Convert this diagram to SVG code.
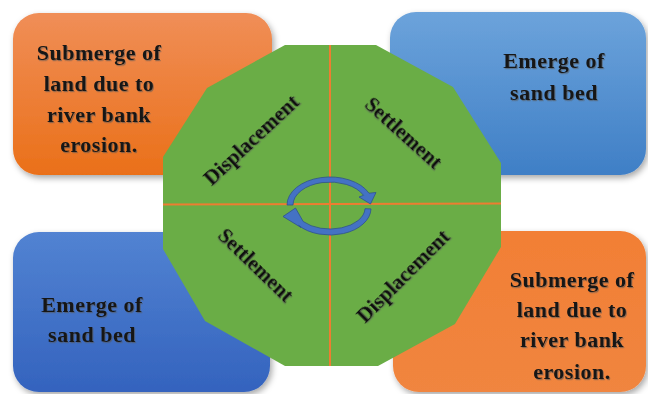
<svg xmlns="http://www.w3.org/2000/svg" width="648" height="394" viewBox="0 0 648 394">
  <defs>
    <linearGradient id="gOrange" x1="0" y1="0" x2="0" y2="1">
      <stop offset="0" stop-color="#F08E57"/>
      <stop offset="1" stop-color="#EA7019"/>
    </linearGradient>
    <linearGradient id="gOrange2" x1="0" y1="0" x2="0" y2="1">
      <stop offset="0" stop-color="#F27F35"/>
      <stop offset="1" stop-color="#F0853F"/>
    </linearGradient>
    <linearGradient id="gBlueLight" x1="0" y1="0" x2="0" y2="1">
      <stop offset="0" stop-color="#6CA3DB"/>
      <stop offset="1" stop-color="#3F7FC6"/>
    </linearGradient>
    <linearGradient id="gBlueDark" x1="0" y1="0" x2="0" y2="1">
      <stop offset="0" stop-color="#5283D2"/>
      <stop offset="1" stop-color="#3463BE"/>
    </linearGradient>
    <filter id="boxShadow" x="-10%" y="-10%" width="125%" height="125%">
      <feDropShadow dx="2" dy="3" stdDeviation="3" flood-color="#000" flood-opacity="0.35"/>
    </filter>
    <filter id="txtShadow" x="-10%" y="-10%" width="120%" height="130%">
      <feDropShadow dx="1" dy="1.2" stdDeviation="0.7" flood-color="#555" flood-opacity="0.6"/>
    </filter>
  </defs>
  <style>
    .lbl { font-family: "Liberation Serif", "Times New Roman", serif; font-weight: bold; font-size: 22px; letter-spacing: 0.5px; fill: #141414; text-anchor: middle; filter: url(#txtShadow); }
    .stage { font-family: "Liberation Serif", "Times New Roman", serif; font-weight: bold; font-size: 21px; fill: #111; text-anchor: middle; filter: url(#txtShadow); }
    .axis { stroke: #ED7D31; stroke-width: 2; }
    .cyc { fill: #4472C4; stroke: #2F528F; stroke-width: 0.8; }
  </style>

  <!-- corner boxes -->
  <g id="box-tl">
    <rect x="13" y="13" width="259" height="162" rx="26" fill="url(#gOrange)" filter="url(#boxShadow)"/>
    <text class="lbl" x="99" y="60">Submerge of</text>
    <text class="lbl" x="99" y="91">land due to</text>
    <text class="lbl" x="99" y="122">river bank</text>
    <text class="lbl" x="99" y="152">erosion.</text>
  </g>
  <g id="box-tr">
    <rect x="390" y="12" width="256" height="163" rx="26" fill="url(#gBlueLight)" filter="url(#boxShadow)"/>
    <text class="lbl" x="554" y="68">Emerge of</text>
    <text class="lbl" x="554" y="100">sand bed</text>
  </g>
  <g id="box-bl">
    <rect x="13" y="232" width="257" height="160" rx="26" fill="url(#gBlueDark)" filter="url(#boxShadow)"/>
    <text class="lbl" x="92" y="312">Emerge of</text>
    <text class="lbl" x="92" y="342">sand bed</text>
  </g>
  <g id="box-br">
    <rect x="393" y="231" width="253" height="161" rx="26" fill="url(#gOrange2)" filter="url(#boxShadow)"/>
    <text class="lbl" x="572" y="287">Submerge of</text>
    <text class="lbl" x="572" y="317">land due to</text>
    <text class="lbl" x="572" y="347">river bank</text>
    <text class="lbl" x="572" y="379">erosion.</text>
  </g>

  <!-- central dodecagon -->
  <g id="hub">
    <polygon points="285,45 376,45 453,87 501,163 501,247 455,324 378,366 285,366 205,321 163,249 163,157 207,88" fill="#6AAD46"/>
  </g>

  <!-- quadrant dividers and cycle arrows -->
  <g id="connectors">
    <line class="axis" x1="330" y1="45" x2="330" y2="366"/>
    <line class="axis" x1="163" y1="204.5" x2="501" y2="203.5"/>
    <path class="cyc" d="M287 205 A43 28 0 0 1 369 193.2 L376 192.5 L370.5 204 L359 197 L363.5 195.3 A37 23 0 0 0 293 205 Z"/>
    <path class="cyc" d="M371 208.9 A41 27 0 0 1 298.6 225.4 L301 227.5 L283 216.5 L295.5 208 L303.2 221.5 A35 21 0 0 0 365 208.7 Z"/>
  </g>

  <!-- stage labels -->
  <g id="stage-labels">
    <text class="stage" transform="translate(256,145) rotate(-43)">Displacement</text>
    <text class="stage" transform="translate(399,138) rotate(42)">Settlement</text>
    <text class="stage" transform="translate(251,270) rotate(44)">Settlement</text>
    <text class="stage" transform="translate(408,281) rotate(-45)">Displacement</text>
  </g>
</svg>
